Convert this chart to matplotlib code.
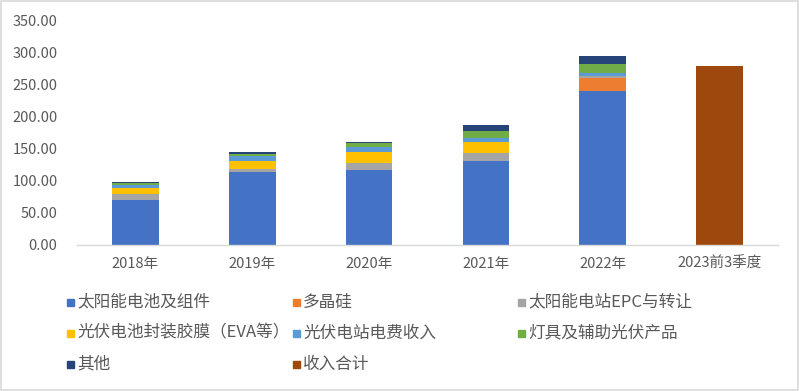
import matplotlib
matplotlib.use("Agg")
import matplotlib.pyplot as plt
from matplotlib.patches import Rectangle
import numpy as np

plt.rcParams['font.family'] = ['Noto Sans CJK SC', 'DejaVu Sans']

years = ["2018年", "2019年", "2020年", "2021年", "2022年", "2023前3季度"]

# revenue by business line (亿元)
solar_modules = [69.7, 114.0, 116.7, 131.2, 240.8, 0]
polysilicon = [0, 0, 0, 0, 19.5, 0]
epc = [9.4, 5.0, 10.5, 12.6, 4.0, 0]
eva_film = [9.4, 11.8, 18.1, 16.7, 0, 0]
power_fee = [5.0, 8.2, 7.4, 6.7, 4.7, 0]
lamps = [3.2, 2.2, 6.7, 11.0, 13.2, 0]
others = [1.5, 3.2, 1.6, 8.9, 13.0, 0]
total = [0, 0, 0, 0, 0, 279.5]

series = [
    ("太阳能电池及组件", solar_modules, "#4472C4"),
    ("多晶硅", polysilicon, "#ED7D31"),
    ("太阳能电站EPC与转让", epc, "#A5A5A5"),
    ("光伏电池封装胶膜（EVA等）", eva_film, "#FFC000"),
    ("光伏电站电费收入", power_fee, "#5B9BD5"),
    ("灯具及辅助光伏产品", lamps, "#70AD47"),
    ("其他", others, "#264478"),
    ("收入合计", total, "#9E480E"),
]

fig = plt.figure(figsize=(7.99, 3.91), dpi=100)
ax = fig.add_axes([77 / 799, 1 - 244.5 / 391, 701 / 799, 223.5 / 391])

x = np.arange(len(years))
bottom = np.zeros(len(years))
for name, vals, color in series:
    ax.bar(x, vals, 0.4, bottom=bottom, color=color, linewidth=0)
    bottom += np.array(vals)

ax.set_xlim(-0.5, len(years) - 0.5)
ax.set_ylim(0, 350)
ax.set_yticks(np.arange(0, 351, 50))
ax.set_yticklabels([f"{v:.2f}" for v in np.arange(0, 351, 50)])
ax.set_xticks(x)
ax.set_xticklabels(years)
ax.tick_params(axis="y", length=0, pad=14, labelsize=10.5, labelcolor="#595959")
ax.tick_params(axis="x", length=0, pad=9, labelsize=10.5, labelcolor="#595959")
for s in ["top", "right", "left"]:
    ax.spines[s].set_visible(False)
ax.spines["bottom"].set_color("#d9d9d9")
ax.spines["bottom"].set_linewidth(1)

# legend laid out like the Excel one, row by row
col_x = [70, 296, 521]
row_y = [302, 333, 364]
for i, (name, vals, color) in enumerate(series):
    cx = col_x[i % 3]
    cy = row_y[i // 3]
    fig.patches.append(Rectangle(((cx - 3.5) / 799, 1 - (cy + 3.5) / 391), 7 / 799, 7 / 391,
                                 transform=fig.transFigure, color=color, figure=fig))
    fig.text((cx + 7) / 799, 1 - cy / 391, name, fontsize=12, color="#595959",
             va="center", ha="left")

# outer frame
fig.patches.append(Rectangle((0.5 / 799, 1.5 / 391), 797 / 799, 388.5 / 391,
                             transform=fig.transFigure, fill=False, edgecolor="#d9d9d9",
                             linewidth=1.2, figure=fig))

fig.savefig("out.png", dpi=100)
